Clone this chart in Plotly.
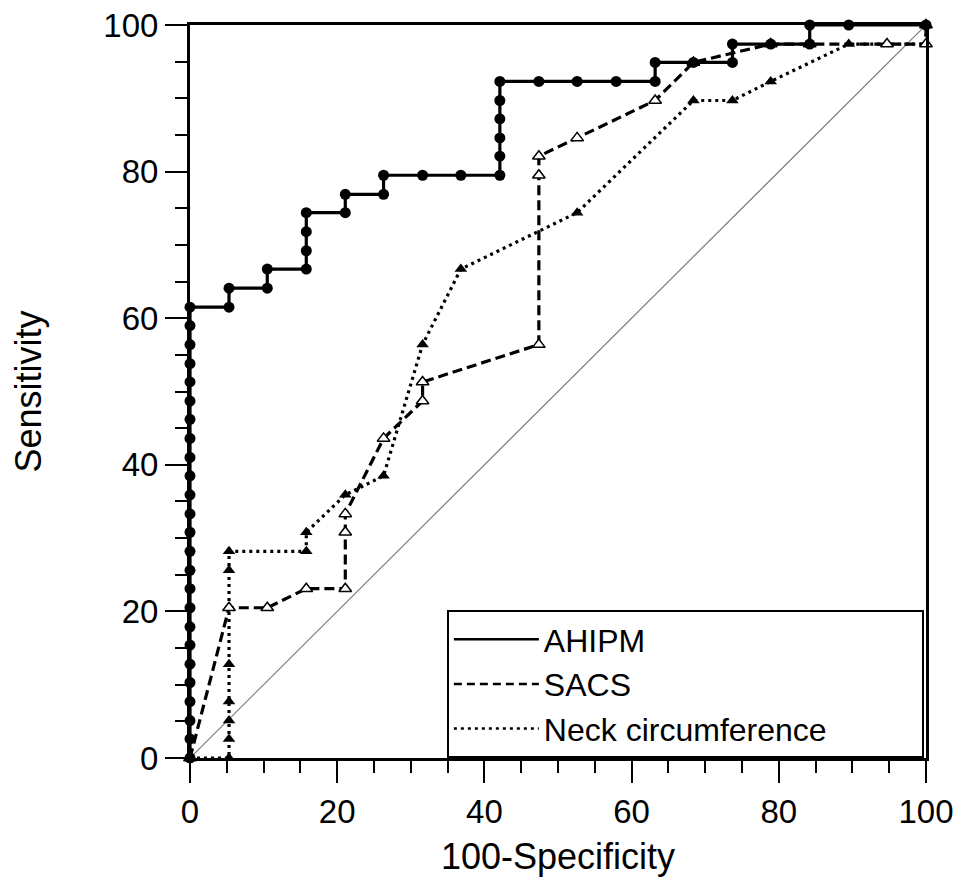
import plotly.graph_objects as go

# ---- data ----
ahipm_x = [0] * 25 + [5.3, 5.3, 10.5, 10.5, 15.8, 15.8, 15.8, 15.8, 21.1, 21.1, 26.3, 26.3,
                      31.6, 36.8, 42.1, 42.1, 42.1, 42.1, 42.1, 42.1, 47.4, 52.6, 57.9,
                      63.2, 63.2, 68.4, 73.7, 73.7, 78.9, 84.2, 84.2, 89.5, 100]
ahipm_y = [0, 2.6, 5.1, 7.7, 10.3, 12.8, 15.4, 17.9, 20.5, 23.1, 25.6, 28.2, 30.8, 33.3,
           35.9, 38.5, 41.0, 43.6, 46.2, 48.7, 51.3, 53.8, 56.4, 59.0, 61.5,
           61.5, 64.1, 64.1, 66.7, 66.7, 69.2, 71.8, 74.4, 74.4, 76.9, 76.9, 79.5,
           79.5, 79.5, 79.5, 82.1, 84.6, 87.2, 89.7, 92.3, 92.3, 92.3, 92.3,
           92.3, 94.9, 94.9, 94.9, 97.4, 97.4, 97.4, 100, 100, 100]

sacs_x = [0, 5.3, 10.5, 15.8, 21.1, 21.1, 21.1, 26.3, 31.6, 31.6, 47.4, 47.4, 47.4,
          52.6, 63.2, 68.4, 78.9, 84.2, 94.7, 100, 100]
sacs_y = [0, 20.5, 20.5, 23.1, 23.1, 30.8, 33.3, 43.6, 48.7, 51.3, 56.4, 79.5, 82.1,
          84.6, 89.7, 94.9, 97.4, 97.4, 97.4, 97.4, 100]

neck_x = [0, 5.3, 5.3, 5.3, 5.3, 5.3, 5.3, 5.3, 5.3, 15.8, 15.8, 21.1, 26.3, 31.6,
          36.8, 52.6, 68.4, 73.7, 78.9, 89.5, 100, 100]
neck_y = [0, 0, 2.6, 5.1, 7.7, 12.8, 20.5, 25.6, 28.2, 28.2, 30.8, 35.9, 38.5, 56.4,
          66.7, 74.4, 89.7, 89.7, 92.3, 97.4, 97.4, 100]

diag = [0, 100]
tick_vals = [0, 20, 40, 60, 80, 100]
tick_text = ["0", "20", "40", "60", "80", "100"]
names = ["AHIPM", "SACS", "Neck circumference"]

FONT = "Liberation Sans, Arial, sans-serif"

fig = go.Figure()

# reference diagonal
fig.add_trace(go.Scatter(x=diag, y=diag, mode="lines",
                         line=dict(color="#7a7a7a", width=1.2),
                         showlegend=False, hoverinfo="skip"))

# Neck circumference
fig.add_trace(go.Scatter(x=neck_x, y=neck_y, mode="lines+markers",
                         line=dict(color="black", width=3.2, dash="3px,4px"),
                         marker=dict(symbol="triangle-up", size=11, color="black"),
                         cliponaxis=False, showlegend=False))
# SACS
fig.add_trace(go.Scatter(x=sacs_x, y=sacs_y, mode="lines+markers",
                         line=dict(color="black", width=3.2, dash="10px,5px"),
                         marker=dict(symbol="triangle-up", size=11, color="white",
                                     line=dict(color="black", width=1.5)),
                         cliponaxis=False, showlegend=False))
# AHIPM
fig.add_trace(go.Scatter(x=ahipm_x, y=ahipm_y, mode="lines+markers",
                         line=dict(color="black", width=3.2),
                         marker=dict(symbol="circle", size=11, color="black"),
                         cliponaxis=False, showlegend=False))

# legend-only entries (line samples without markers)
fig.add_trace(go.Scatter(x=[None], y=[None], mode="lines", name=names[0],
                         line=dict(color="black", width=2.5)))
fig.add_trace(go.Scatter(x=[None], y=[None], mode="lines", name=names[1],
                         line=dict(color="black", width=2.5, dash="8px,5px")))
fig.add_trace(go.Scatter(x=[None], y=[None], mode="lines", name=names[2],
                         line=dict(color="black", width=2.5, dash="3px,4px")))

axis_common = dict(
    range=[0, 100], showgrid=False, zeroline=False,
    showline=True, linecolor="black", linewidth=3, mirror=True,
    ticks="outside", ticklen=22, tickwidth=2, tickcolor="black",
    tickvals=tick_vals, ticktext=tick_text, ticklabeloverflow="allow",
    tickfont=dict(family=FONT, size=33, color="black"),
    minor=dict(ticks="outside", ticklen=12, tickwidth=2, tickcolor="black", dtick=5,
               tick0=0, showgrid=False),
)

fig.update_layout(
    width=950, height=869,
    margin=dict(l=182, r=32, t=17, b=119, autoexpand=False),
    paper_bgcolor="white", plot_bgcolor="white",
    font=dict(family=FONT, color="black"),
    xaxis=dict(**axis_common, automargin=False,
               title=dict(text="100-Specificity", font=dict(family=FONT, size=36),
                          standoff=22)),
    yaxis=dict(**axis_common, automargin=False,
               title=dict(text="Sensitivity", font=dict(family=FONT, size=36),
                          standoff=64)),
    legend=dict(x=0.349, y=0, xanchor="left", yanchor="bottom",
                orientation="h",
                bgcolor="white", bordercolor="black", borderwidth=2,
                font=dict(family=FONT, size=32, color="black"),
                itemwidth=85, entrywidth=373, entrywidthmode="pixels",
                tracegroupgap=0),
    showlegend=True,
)

fig.write_html("out.html")
